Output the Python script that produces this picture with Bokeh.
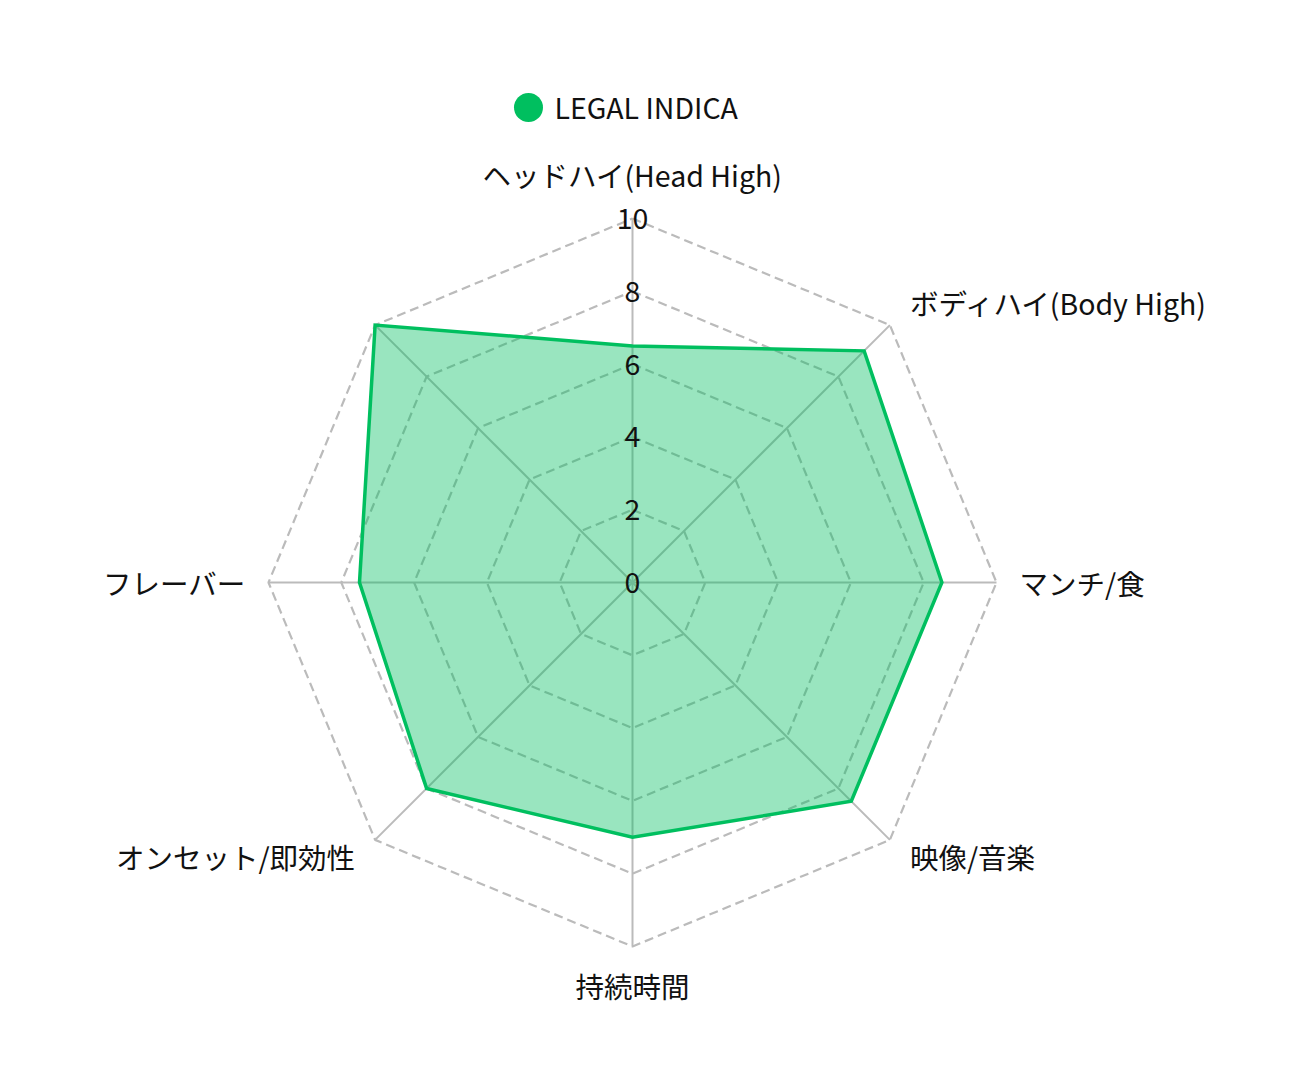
import numpy as np
from bokeh.plotting import figure
from bokeh.models import Range1d
from bokeh.core.properties import value
from bokeh.embed import file_html
from bokeh.resources import INLINE

# ---- data ----
categories = ["ヘッドハイ(Head High)", "ボディハイ(Body High)", "マンチ/食", "映像/音楽",
              "持続時間", "オンセット/即効性", "フレーバー", ""]
series_name = "LEGAL INDICA"
series_values = [6.5, 9.0, 8.5, 8.5, 7.0, 8.0, 7.5, 10.0]
tick_values = [0, 2, 4, 6, 8, 10]
tick_labels = ["0", "2", "4", "6", "8", "10"]
max_value = 10

# ---- layout ----
W, H = 1275, 1066
scale = 36.4            # px per unit
cx_px, cy_px = 632, 582 # centre within the figure
FONT = value("Noto Sans CJK JP")
FS = "28.5px"
GREEN = "#00bf5f"
GRID = "#bbbbbb"

p = figure(width=W, height=H, output_backend="svg", toolbar_location=None,
           x_range=Range1d(-cx_px / scale, (W - cx_px) / scale),
           y_range=Range1d(-(H - cy_px) / scale, cy_px / scale),
           min_border=0, outline_line_color=None)
p.axis.visible = False
p.grid.visible = False
p.background_fill_color = "white"
p.border_fill_color = "white"

n = len(categories)
angles = np.pi / 2 - np.arange(n) * 2 * np.pi / n
ux, uy = np.cos(angles), np.sin(angles)

# grid polygons (dashed)
for t in tick_values[1:]:
    xs = list(ux * t) + [ux[0] * t]
    ys = list(uy * t) + [uy[0] * t]
    p.line(xs, ys, line_color=GRID, line_width=2.2, line_dash="9 5")

# spokes
p.segment(x0=[0] * n, y0=[0] * n, x1=list(ux * max_value), y1=list(uy * max_value),
          line_color=GRID, line_width=2)

# data polygon
vals = np.array(series_values)
px = list(ux * vals)
py = list(uy * vals)
p.patch(px, py, fill_color=GREEN, fill_alpha=0.4, line_color=None)
p.line(px + [px[0]], py + [py[0]], line_color=GREEN, line_width=3.5, line_join="miter")

# tick labels along the top spoke
p.text(x=[0] * len(tick_values), y=tick_values, text=tick_labels,
       text_align="center", text_baseline="middle",
       text_font=FONT, text_font_size=FS, text_color="#111111")

# category labels (pixel offsets from the outer vertex)
R = max_value
for i, name in enumerate(categories):
    dx, dy = ux[i], uy[i]
    sx = np.sign(round(dx, 6))
    sy = np.sign(round(dy, 6))
    if sx == 0:
        align = "center"
        if sy > 0:
            base, ox, oy = "bottom", 0, 24
        else:
            base, ox, oy = "top", 0, -18
    elif sy == 0:
        align = "left" if sx > 0 else "right"
        base, ox, oy = "middle", sx * 23, 0
    else:
        align = "left" if sx > 0 else "right"
        base, ox, oy = "middle", sx * 20, sy * 20 + 3
    x = dx * R + ox / scale
    y = dy * R + oy / scale
    p.text(x=[x], y=[y], text=[name], text_align=align, text_baseline=base,
           text_font=FONT, text_font_size=FS, text_color="#111111")

# legend
leg_y = (cy_px - 107) / scale
p.scatter(x=[(528 - cx_px) / scale], y=[leg_y], size=29, marker="circle",
          fill_color=GREEN, line_color=None)
p.text(x=[(554 - cx_px) / scale], y=[(cy_px - 106) / scale], text=[series_name],
       text_align="left", text_baseline="middle",
       text_font=FONT, text_font_size=FS, text_color="#111111")

open("out.html", "w").write(file_html(p, INLINE))
